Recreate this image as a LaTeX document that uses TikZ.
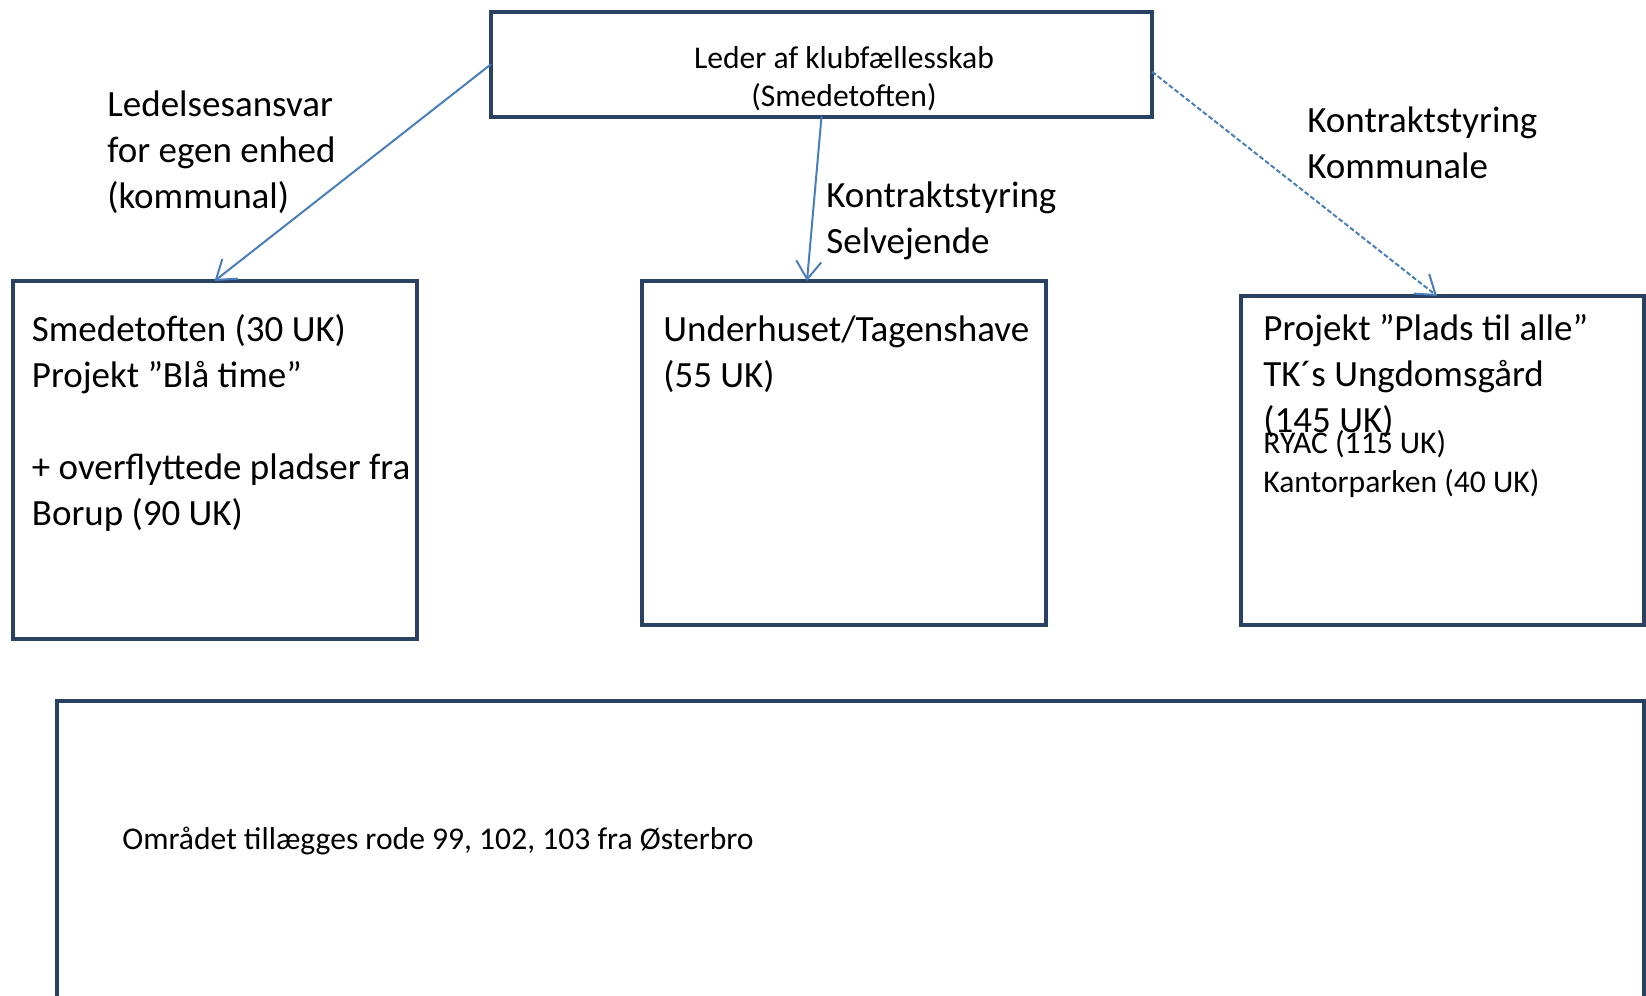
\documentclass[tikz,border=0pt]{standalone}
\usepackage{fontspec}
\setmainfont{Carlito}
\usetikzlibrary{arrows.meta,calc}
\definecolor{boxline}{RGB}{41,65,98}
\definecolor{arrowblue}{RGB}{74,126,187}
\tikzset{
  unitbox/.style={draw=boxline, line width=2pt, rectangle, outer sep=0pt, inner sep=0pt},
  bigtext/.style={font=\fontsize{18.5}{23}\selectfont, align=left, inner sep=0pt, anchor=base west},
  smalltext/.style={font=\fontsize{15.8}{19.5}\selectfont, inner sep=0pt, anchor=base west, align=left},
  link/.style={draw=arrowblue, line width=1pt, -{Straight Barb[length=9pt,width=12.5pt]}},
}
\begin{document}
\begin{tikzpicture}[x=0.5pt,y=-0.5pt]
\useasboundingbox (0,0) rectangle (1646,996);
\clip (0,0) rectangle (1646,996);
% boxes
\node[unitbox, minimum width=330.5pt, minimum height=52.25pt] (top) at (821.5,64.25) {};
\node[unitbox, minimum width=202pt, minimum height=179pt] (lbox) at (214.5,460) {};
\node[unitbox, minimum width=202pt, minimum height=172pt] (mbox) at (844,453) {};
\node[unitbox, minimum width=201.5pt, minimum height=164.5pt] (rbox) at (1442.5,460.5) {};
\node[unitbox, minimum width=793.5pt, minimum height=162pt] (bbox) at (850.5,863) {};
% texts (anchor = baseline of the last line)
\node[smalltext, align=center, anchor=base, font=\fontsize{15.8}{19}\selectfont] (toptext) at (844,106) {Leder af klubfællesskab\\(Smedetoften)};
\node[bigtext] (ltext) at (31.5,525) {Smedetoften (30 UK)\\Projekt ”Blå time”\\[23pt]+ overflyttede pladser fra\\Borup (90 UK)};
\node[bigtext] (mtext) at (663,387) {Underhuset/Tagenshave\\(55 UK)};
\node[bigtext] (rtext) at (1263,432.5) {Projekt ”Plads til alle”\\TK´s Ungdomsgård\\(145 UK)};
\node[smalltext] (rsmall) at (1263,492) {RYAC (115 UK)\\Kantorparken (40 UK)};
\node[smalltext] (btext) at (122,849) {Området tillægges rode 99, 102, 103 fra Østerbro};
% labels
\node[bigtext] (lab1) at (107,208) {Ledelsesansvar\\for egen enhed\\(kommunal)};
\node[bigtext] (lab2) at (826,253) {Kontraktstyring\\Selvejende};
\node[bigtext] (lab3) at (1307,178) {Kontraktstyring\\Kommunale};
% connectors
\draw[link] (top.west) -- (lbox.north);
\draw[link] (top.south) -- ($(mbox.north)+(-37,0)$);
\draw[link, dash pattern=on 2.4pt off 1.2pt] ($(top.east)+(0,7.5)$) -- ($(rbox.north)+(-5.5,0)$);
\end{tikzpicture}
\end{document}
